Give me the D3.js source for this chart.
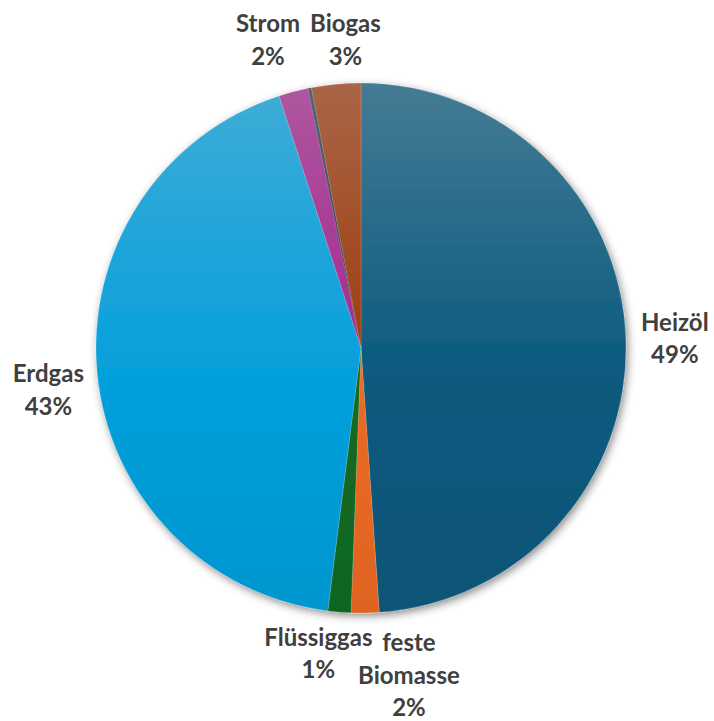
<!DOCTYPE html>
<html>
<head>
<meta charset="utf-8">
<script src="https://cdn.jsdelivr.net/npm/d3@7"></script>
<style>
  html, body { margin: 0; padding: 0; background: #ffffff; }
  svg { display: block; }
</style>
</head>
<body>
<svg id="chart" width="714" height="721"></svg>
<script>
// ---- data ----
const categories = ["Heizöl", "feste Biomasse", "Flüssiggas", "Erdgas", "Strom", "Fernwärme", "Biogas"];
const values = [48.9, 1.7, 1.4, 43.0, 1.8, 0.2, 3.0];
const showLabel = [true, true, true, true, true, false, true];

// ---- style / layout ----
const colors = ["#0b5a7e", "#ec6a22", "#126b24", "#05a0dc", "#a3268f", "#1f3e4e", "#9c3a0e"];
const W = 714, H = 721;
const cx = 361, cy = 348, R = 265;
const labelR = 314;
const lineH = 32.5, capH = 16;
const labelNudge = {
  "Heizöl": [0, 2],
  "Erdgas": [0, 13],
  "Strom": [-13, -4],
  "Biogas": [14, 5],
  "Flüssiggas": [-17, -7],
  "feste Biomasse": [43, 14]
};

const svg = d3.select("#chart");
const defs = svg.append("defs");

const shadow = defs.append("filter").attr("id", "shadow")
  .attr("x", "-10%").attr("y", "-10%").attr("width", "125%").attr("height", "125%");
shadow.append("feDropShadow")
  .attr("dx", 2).attr("dy", 3).attr("stdDeviation", 4)
  .attr("flood-color", "#000").attr("flood-opacity", 0.45);

colors.forEach((c, i) => {
  const g = defs.append("linearGradient").attr("id", "grad" + i)
    .attr("gradientUnits", "userSpaceOnUse")
    .attr("x1", 0).attr("x2", 0).attr("y1", -R).attr("y2", R);
  g.append("stop").attr("offset", 0).attr("stop-color", d3.interpolateRgb(c, "#c8c8c8")(0.3));
  g.append("stop").attr("offset", 0.55).attr("stop-color", c);
  g.append("stop").attr("offset", 1).attr("stop-color", d3.interpolateRgb(c, "#000")(0.06));
});

const data = categories.map((name, i) => ({ name, value: values[i], i }));
const pie = d3.pie().sort(null).value(d => d.value);
const arcs = pie(data);
const arc = d3.arc().innerRadius(0).outerRadius(R);

const g = svg.append("g").attr("transform", `translate(${cx},${cy})`);
g.append("g").attr("filter", "url(#shadow)")
  .selectAll("path").data(arcs).join("path")
  .attr("d", arc)
  .attr("fill", d => `url(#grad${d.data.i})`)
  .attr("stroke", d => d.data.name === "Fernwärme" ? "none" : "rgba(255,255,255,0.3)")
  .attr("stroke-width", 0.5);

const total = d3.sum(values);
const labelArc = d3.arc().innerRadius(labelR).outerRadius(labelR);

const labels = svg.append("g")
  .attr("font-family", "Lato, 'Open Sans', sans-serif")
  .attr("font-weight", 700)
  .attr("font-size", 24)
  .attr("fill", "#404040")
  .attr("text-anchor", "middle");

arcs.filter(d => showLabel[d.data.i]).forEach(d => {
  const [lx, ly] = labelArc.centroid(d);
  const nud = labelNudge[d.data.name] || [0, 0];
  const lines = d.data.name.split(" ").concat([Math.round(d.data.value / total * 100) + "%"]);
  const x = cx + lx + nud[0];
  const blockCy = cy + ly;
  const b1 = blockCy - (lines.length - 1) * lineH / 2 + capH / 2 + nud[1];
  const t = labels.append("text");
  lines.forEach((ln, k) => {
    t.append("tspan").attr("x", x).attr("y", b1 + k * lineH).text(ln);
  });
});
</script>
</body>
</html>
